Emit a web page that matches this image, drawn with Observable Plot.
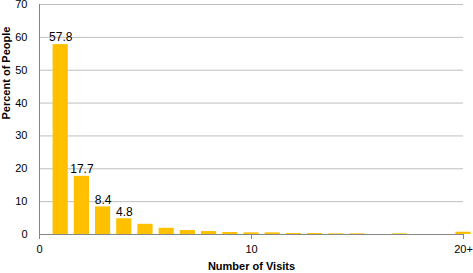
<!DOCTYPE html>
<html><head><meta charset="utf-8">
<script src="https://cdn.jsdelivr.net/npm/d3@7"></script>
<script src="https://cdn.jsdelivr.net/npm/@observablehq/plot@0.6"></script>
<style>body{margin:0;background:#fff} svg{display:block}</style>
</head><body><div id="chart"></div>
<script>
const visits = [1,2,3,4,5,6,7,8,9,10,11,12,13,14,15,16,17,18,19,20];
const percent = [57.8,17.7,8.4,4.8,3.1,1.9,1.2,0.9,0.6,0.5,0.5,0.3,0.3,0.2,0.2,0,0.2,0,0,0.7];
const labeledVisits = [1,2,3,4];
const xTicks = [0,10,20];
const xTickLabels = ["0","10","20+"];
const yTicks = [0,10,20,30,40,50,60,70];
const xTitle = "Number of Visits";
const yTitle = "Percent of People";

const data = visits.map((v,i)=>({visits:v, pct:percent[i]}));
const labeled = data.filter(d=>labeledVisits.includes(d.visits));

const chart = Plot.plot({
  width:473, height:273,
  marginLeft:39, marginRight:10, marginTop:4, marginBottom:39,
  style:{fontFamily:"'Liberation Sans', Arial, sans-serif", fontSize:"11px", color:"#000", background:"#fff"},
  x:{domain:[0,20]},
  y:{domain:[0,70]},
  marks:[
    Plot.gridY(yTicks.filter(t=>t>0), {stroke:"#bfbfbf", strokeOpacity:1}),
    Plot.rectY(data, {x1:d=>d.visits-0.5, x2:d=>d.visits+0.5, y:"pct", insetLeft:3, insetRight:3, fill:"#FFC000"}),
    Plot.ruleX([0], {stroke:"#868686"}),
    Plot.ruleY([0], {stroke:"#868686"}),
    Plot.axisY({ticks:yTicks, tickSize:0, tickPadding:12, label:null, fontSize:11}),
    Plot.axisX({ticks:xTicks, tickFormat:d=>xTickLabels[xTicks.indexOf(d)], tickSize:5, tickPadding:6, stroke:"#868686", label:null, fontSize:11}),
    Plot.text(labeled, {x:"visits", y:"pct", text:d=>d.pct.toFixed(1), dy:-7, fontSize:12, fill:"#000"}),
    Plot.text([yTitle], {frameAnchor:"left", rotate:-90, dx:-33, fontWeight:"bold", fontSize:11}),
    Plot.text([xTitle], {frameAnchor:"bottom", dy:35, fontWeight:"bold", fontSize:11})
  ]
});
document.getElementById("chart").appendChild(chart);
</script>
</body></html>
